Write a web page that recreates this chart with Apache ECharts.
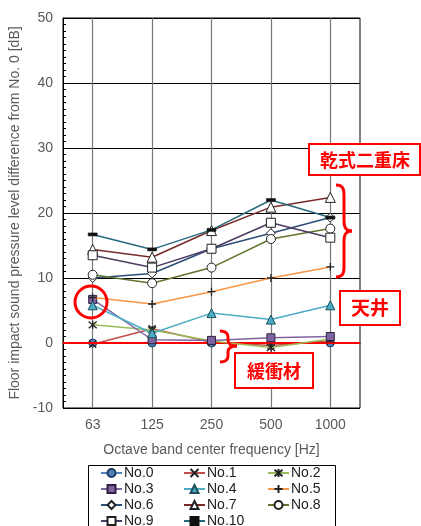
<!DOCTYPE html>
<html>
<head>
<meta charset="utf-8">
<script src="https://cdn.jsdelivr.net/npm/echarts@6/dist/echarts.min.js"></script>
<style>
html, body { margin: 0; padding: 0; background: #fff; }
#main { width: 421px; height: 526px; }
</style>
</head>
<body>
<div id="main"></div>
<script>
// 横轴：倍频程中心频率
var freqs = ['63', '125', '250', '500', '1000'];
var yTicks = [-10, 0, 10, 20, 30, 40, 50];

// 各试验体与No.0的差值 (dB)
var no0 = [0, 0, 0, 0, 0];
var no1 = [-0.2, 2.2, 0.1, -0.4, 0.3];
var no2 = [2.8, 2.0, 0.3, -0.7, 0.6];
var no3 = [6.7, 0.5, 0.4, 0.8, 1.0];
var no4 = [5.8, 1.5, 4.6, 3.6, 5.8];
var no5 = [7.0, 6.0, 7.9, 10.0, 11.7];
var no6 = [10.0, 10.7, 14.5, 16.9, 19.3];
var no7 = [14.4, 13.2, 17.3, 20.9, 22.4];
var no8 = [10.5, 9.2, 11.6, 16.0, 17.6];
var no9 = [13.5, 11.6, 14.5, 18.5, 16.2];
var no10 = [16.7, 14.4, 17.4, 22.0, 19.3];

var names = ['No.0', 'No.1', 'No.2', 'No.3', 'No.4', 'No.5', 'No.6', 'No.7', 'No.8', 'No.9', 'No.10'];
var values = [no0, no1, no2, no3, no4, no5, no6, no7, no8, no9, no10];
var lineColors = ['#4F81BD', '#C0504D', '#9BBB59', '#8064A2', '#4BACC6', '#F79646',
                  '#2C4D75', '#772C2A', '#5F7530', '#4D3B62', '#276A7C'];

var X_PATH = 'path://M0 0L10 10M10 0L0 10';
var STAR_PATH = 'path://M0 0L10 10M10 0L0 10M5 -1L5 11';
var PLUS_PATH = 'path://M5 0L5 10M0 5L10 5';

// 标记样式
var marks = [
  { symbol: 'circle', size: 8, color: '#4F81BD', border: '#1f3a60', bw: 1 },
  { symbol: X_PATH, size: 7, color: 'none', border: '#222', bw: 1.3 },
  { symbol: STAR_PATH, size: 8, color: 'none', border: '#222', bw: 1.3 },
  { symbol: 'rect', size: 8, color: '#8064A2', border: '#2e2240', bw: 1 },
  { symbol: 'triangle', size: 9, color: '#4BACC6', border: '#1d4f5c', bw: 1 },
  { symbol: PLUS_PATH, size: 8, color: 'none', border: '#222', bw: 1.3 },
  { symbol: 'diamond', size: 9, color: '#fff', border: '#222', bw: 1 },
  { symbol: 'triangle', size: 10, color: '#fff', border: '#222', bw: 1 },
  { symbol: 'circle', size: 9, color: '#fff', border: '#222', bw: 1 },
  { symbol: 'rect', size: 9, color: '#fff', border: '#222', bw: 1 },
  { symbol: 'rect', size: [9, 3], color: '#111', border: '#111', bw: 0.5 }
];

var series = [];
for (var i = 0; i < names.length; i++) {
  var s = {
    name: names[i],
    type: 'line',
    data: values[i],
    symbol: marks[i].symbol,
    symbolSize: marks[i].size,
    showAllSymbol: true,
    z: 3 + i,
    lineStyle: { color: lineColors[i], width: 1.5 },
    itemStyle: { color: marks[i].color, borderColor: marks[i].border, borderWidth: marks[i].bw },
    emphasis: { disabled: true },
    animation: false
  };
  if (i == 0) {
    s.markLine = {
      silent: true,
      symbol: 'none',
      label: { show: false },
      lineStyle: { color: '#ff0000', width: 2, type: 'solid' },
      data: [{ yAxis: 0 }]
    };
  }
  series.push(s);
}

function legendCol(left, data) {
  return {
    orient: 'vertical',
    left: left,
    top: 465,
    height: 90,
    padding: 0,
    itemGap: 0,
    itemWidth: 21,
    itemHeight: 10,
    data: data,
    selectedMode: false,
    textStyle: { color: '#222', fontSize: 14, fontFamily: 'Liberation Sans', lineHeight: 16, padding: [0, 0, 0, -3] }
  };
}

var RED = '#ff0000';

// 红色大括号（由曲线段拼成）
function brace(x0, xm, xt, yt, ym, yb, r) {
  var st = { fill: 'none', stroke: RED, lineWidth: 3 };
  var els = [
    { type: 'bezierCurve', shape: { x1: x0, y1: yt, cpx1: xm - 1, cpy1: yt, cpx2: xm, cpy2: yt + 4, x2: xm, y2: yt + r } },
    { type: 'line', shape: { x1: xm, y1: yt + r, x2: xm, y2: ym - r } },
    { type: 'bezierCurve', shape: { x1: xm, y1: ym - r, cpx1: xm, cpy1: ym - 3, cpx2: xm + 2, cpy2: ym, x2: xt, y2: ym } },
    { type: 'bezierCurve', shape: { x1: xt, y1: ym, cpx1: xm + 2, cpy1: ym, cpx2: xm, cpy2: ym + 3, x2: xm, y2: ym + r } },
    { type: 'line', shape: { x1: xm, y1: ym + r, x2: xm, y2: yb - r } },
    { type: 'bezierCurve', shape: { x1: xm, y1: yb - r, cpx1: xm, cpy1: yb - 4, cpx2: xm - 1, cpy2: yb, x2: x0, y2: yb } }
  ];
  for (var k = 0; k < els.length; k++) {
    els[k].style = st;
    els[k].z = 100;
    els[k].silent = true;
  }
  return els;
}

var graphics = [
  // 图例外框
  { type: 'rect', shape: { x: 88.5, y: 465.5, width: 247, height: 80 }, style: { fill: 'none', stroke: '#000', lineWidth: 1 }, z: 1, silent: true },
  // 63Hz 红圈
  { type: 'circle', shape: { cx: 91, cy: 302, r: 16 }, style: { fill: 'none', stroke: RED, lineWidth: 3 }, z: 100, silent: true },
  // 标注框
  { type: 'rect', shape: { x: 309, y: 144, width: 111, height: 31 }, style: { fill: '#fff', stroke: RED, lineWidth: 2 }, z: 100, silent: true },
  { type: 'text', x: 365, y: 160, style: { text: '乾式二重床', fill: RED, font: 'bold 18px "Noto Sans CJK JP"', align: 'center', verticalAlign: 'middle' }, z: 101, silent: true },
  { type: 'rect', shape: { x: 340, y: 291, width: 60, height: 34 }, style: { fill: '#fff', stroke: RED, lineWidth: 2 }, z: 100, silent: true },
  { type: 'text', x: 370, y: 308, style: { text: '天井', fill: RED, font: 'bold 19px "Noto Sans CJK JP"', align: 'center', verticalAlign: 'middle' }, z: 101, silent: true },
  { type: 'rect', shape: { x: 235, y: 353, width: 78, height: 35 }, style: { fill: '#fff', stroke: RED, lineWidth: 2 }, z: 100, silent: true },
  { type: 'text', x: 274, y: 371, style: { text: '緩衝材', fill: RED, font: 'bold 18px "Noto Sans CJK JP"', align: 'center', verticalAlign: 'middle' }, z: 101, silent: true }
];
graphics = graphics.concat(brace(336, 344, 352, 185, 231, 277, 10));
graphics = graphics.concat(brace(220, 228, 237, 331, 346, 362, 6));

var option = {
  animation: false,
  backgroundColor: '#fff',
  grid: {
    left: 63, top: 18, width: 297, height: 390,
    show: true, borderColor: '#000', borderWidth: 1,
    outerBoundsMode: 'none'
  },
  legend: [
    legendCol(100, ['No.0', 'No.3', 'No.6', 'No.9']),
    legendCol(183, ['No.1', 'No.4', 'No.7', 'No.10']),
    legendCol(267, ['No.2', 'No.5', 'No.8'])
  ],
  xAxis: {
    type: 'category',
    data: freqs,
    boundaryGap: true,
    name: 'Octave band center frequency [Hz]',
    nameLocation: 'middle',
    nameGap: 35,
    nameTextStyle: { color: '#595959', fontSize: 14, fontFamily: 'Liberation Sans' },
    axisLine: { lineStyle: { color: '#000', width: 1 } },
    axisTick: { show: false },
    axisLabel: { color: '#595959', fontSize: 14, fontFamily: 'Liberation Sans', margin: 10 },
    splitLine: { show: true, alignWithLabel: true, lineStyle: { color: '#777', width: 1.2 } }
  },
  yAxis: {
    type: 'value',
    min: yTicks[0],
    max: yTicks[yTicks.length - 1],
    interval: 10,
    name: 'Floor impact sound pressure level difference from No. 0 [dB]',
    nameLocation: 'middle',
    nameGap: 36,
    nameTextStyle: { color: '#595959', fontSize: 14, fontFamily: 'Liberation Sans' },
    axisLine: { show: true, lineStyle: { color: '#000', width: 1 } },
    axisTick: { show: true, inside: true, length: 4, lineStyle: { color: '#000' } },
    minorTick: { show: true, splitNumber: 10, length: 3, lineStyle: { color: '#000' } },
    axisLabel: { color: '#595959', fontSize: 14, fontFamily: 'Liberation Sans', margin: 10 },
    splitLine: { show: true, lineStyle: { color: '#000', width: 1 } }
  },
  graphic: graphics,
  series: series
};

var myChart = echarts.init(document.getElementById('main'));
myChart.setOption(option);
</script>
</body>
</html>
